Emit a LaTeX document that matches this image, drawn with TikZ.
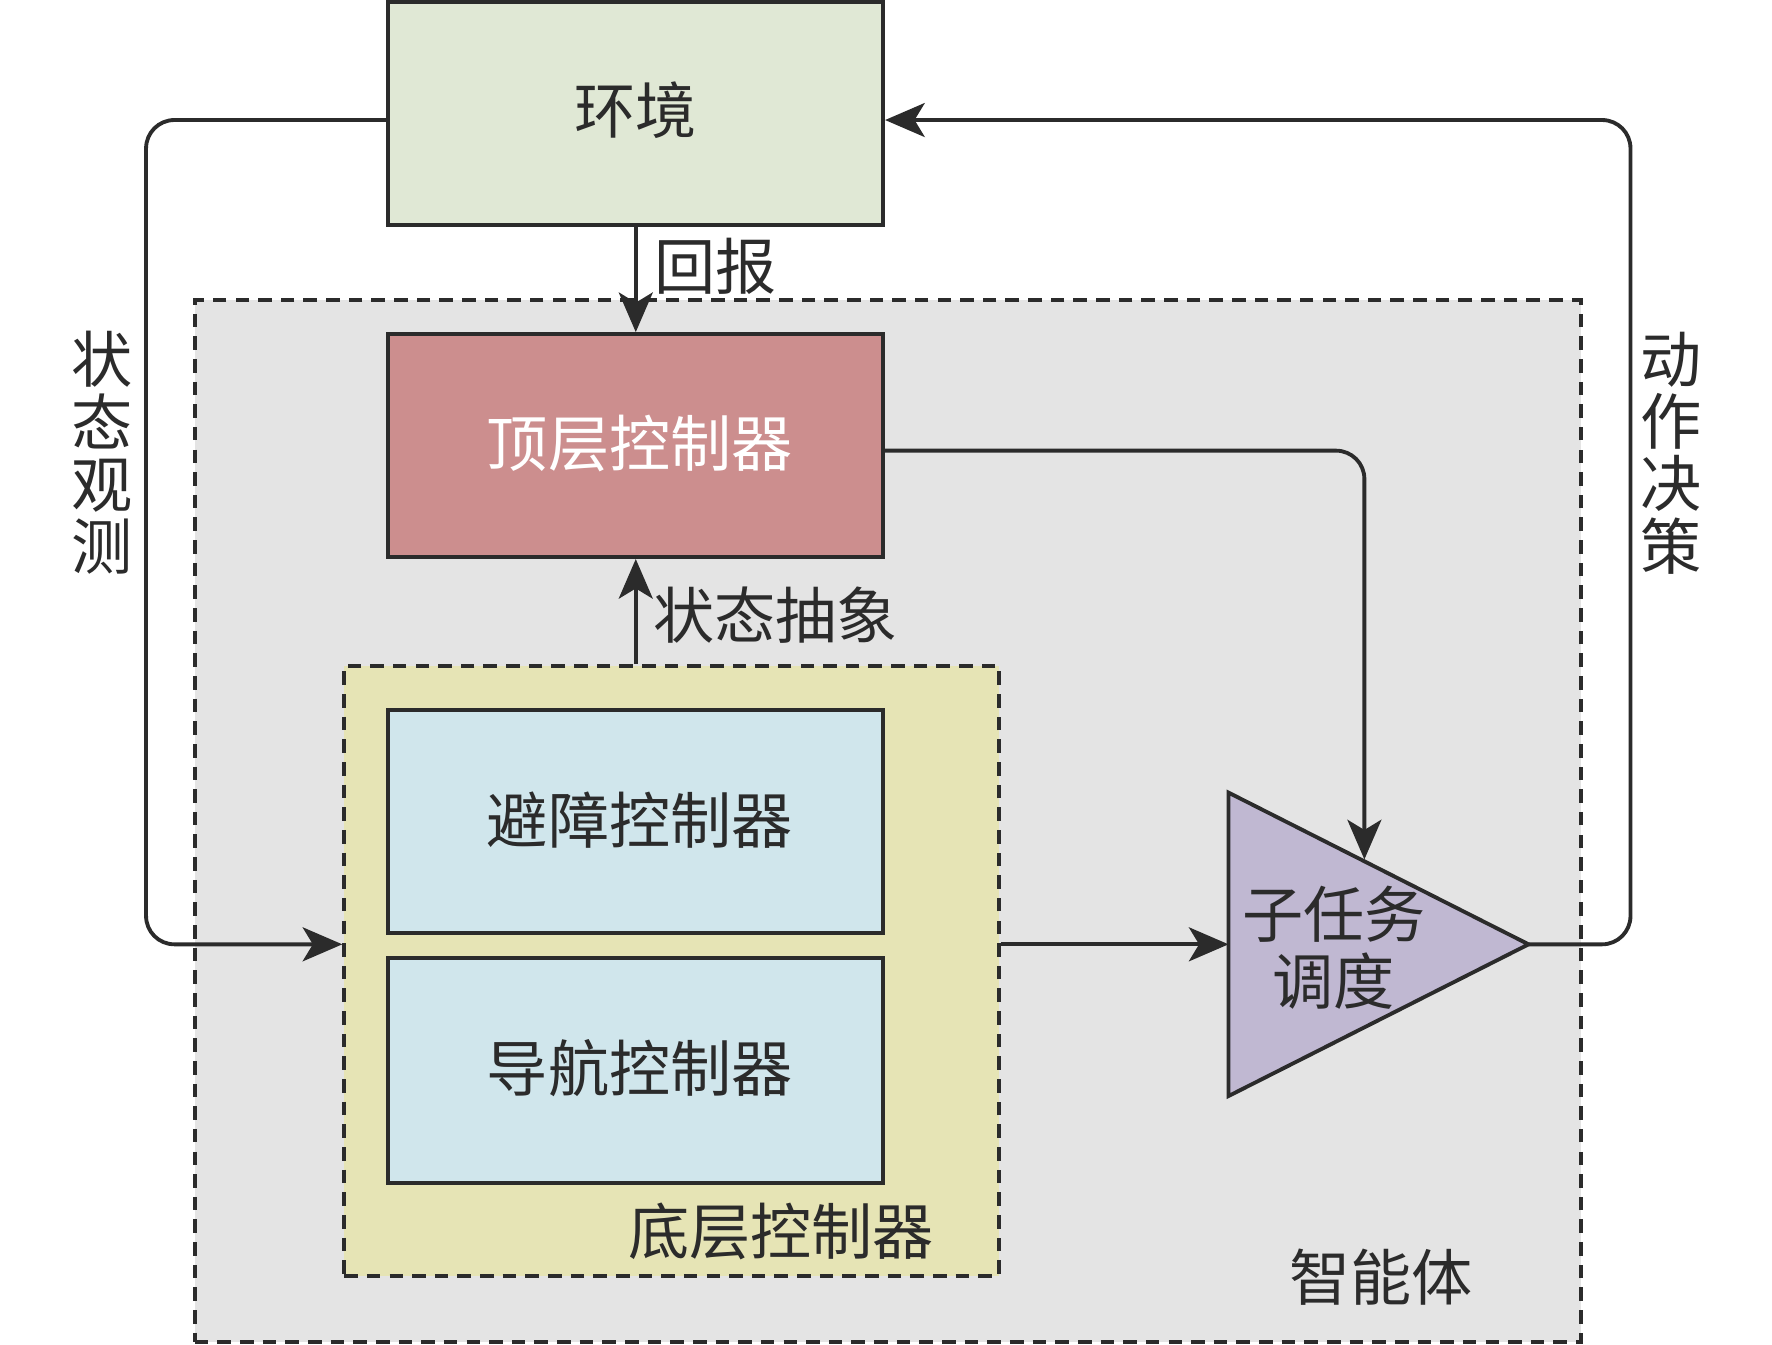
\documentclass[tikz,border=0pt]{standalone}
\usepackage{fontspec}
\setmainfont{Noto Sans CJK SC}
\usetikzlibrary{arrows.meta}
\definecolor{ln}{RGB}{43,43,43}
\definecolor{envc}{RGB}{224,232,213}
\definecolor{agc}{RGB}{228,228,228}
\definecolor{topc}{RGB}{204,142,142}
\definecolor{lowc}{RGB}{230,228,181}
\definecolor{boxc}{RGB}{208,230,236}
\definecolor{trc}{RGB}{192,184,210}
\begin{document}
\begin{tikzpicture}[x=1pt,y=-1pt,
  line width=3.4pt,
  box/.style={draw=ln, line width=3.4pt, minimum width=437pt, minimum height=197pt, inner sep=0pt},
  dbox/.style={draw=ln, line width=3.4pt, dash pattern=on 12pt off 8pt, inner sep=0pt},
  lbl/.style={font=\fontsize{54}{58}\selectfont, text=ln, inner sep=0pt},
  arr/.style={draw=ln, line width=3.4pt, -{Stealth[length=35pt,width=30pt,inset=9pt]}}
]
\useasboundingbox (0,0) rectangle (1565,1187);
% agent region
\node[dbox, fill=agc, minimum width=1224pt, minimum height=920pt] (agent) at (784,725) {};
% boxes
\node[box, fill=envc] (env) at (561.5,100.5) {};
\node[box, fill=topc] (top) at (561.5,393.5) {};
\node[dbox, fill=lowc, minimum width=578pt, minimum height=539pt] (low) at (593,857.5) {};
\node[box, fill=boxc] (avoid) at (561.5,725.5) {};
\node[box, fill=boxc, minimum height=199pt] (nav) at (561.5,945.5) {};
% triangle
\coordinate (tA) at (1085,700);
\coordinate (tB) at (1085,968);
\coordinate (tC) at (1350,834);
\draw[ln, line width=3.4pt, fill=trc, line join=miter] (tA) -- (tC) -- (tB) -- cycle;
\coordinate (tin) at (1085,834);
\coordinate (ttop) at (1205,759);
% texts
\node[lbl] (tenv) at (561,97) {环境};
\node[lbl, text=white] (ttopc) at (565,392) {顶层控制器};
\node[lbl] (tavoid) at (565,724) {避障控制器};
\node[lbl] (tnav) at (565,943) {导航控制器};
\node[lbl] (tlow) at (690,1088) {底层控制器};
\node[lbl] (tagent) at (1220,1128) {智能体};
\node[lbl, align=center, font=\fontsize{54}{60}\selectfont] (tsched) at (1178,837) {子任务\\调度};
\node[lbl] (thb) at (632,235) {回报};
\node[lbl] (tabs) at (685,543) {状态抽象};
\node[lbl, align=center, font=\fontsize{54}{55}\selectfont] (tobs) at (90,400) {状\\态\\观\\测};
\node[lbl, align=center, font=\fontsize{54}{55}\selectfont] (tact) at (1476,400) {动\\作\\决\\策};
% connectors
\draw[arr] (env.south) -- (top.north);
\draw[arr] (low.north -| top.south) -- (top.south);
\draw[arr, rounded corners=25pt] (top.east |- 0,398) -| (ttop);
\draw[arr] (low.east |- tin) -- (tin);
\draw[arr, rounded corners=25pt] (env.west |- 0,106) -| (129,500) |- (low.west |- tin);
\draw[arr, rounded corners=25pt] (tC) -| (1440,500) |- (env.east |- 0,106);
\end{tikzpicture}
\end{document}
